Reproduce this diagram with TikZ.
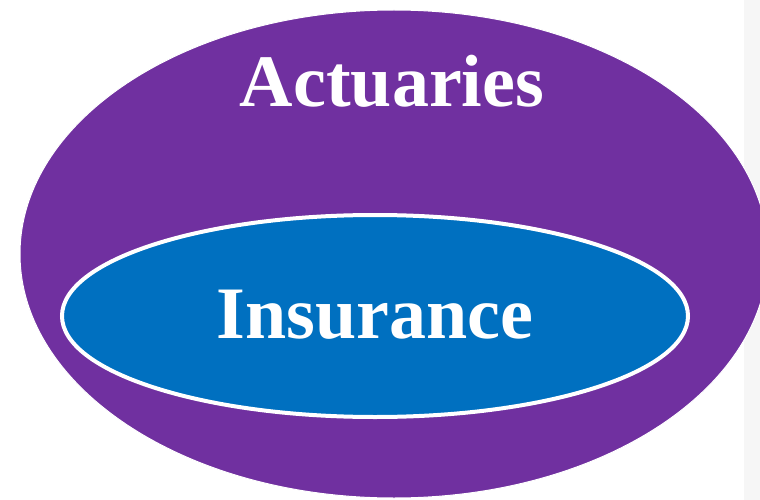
\documentclass[tikz,border=0pt]{standalone}
\usepackage{fontspec}
\setmainfont{Liberation Serif}
\definecolor{actpurple}{HTML}{7030A0}
\definecolor{insblue}{HTML}{0070C0}
\definecolor{edgegrey}{HTML}{F6F6F6}
\begin{document}
\begin{tikzpicture}[x=1pt,y=-1pt,
  outerset/.style={fill=actpurple,draw=white,line width=1pt},
  innerset/.style={fill=insblue,draw=white,line width=4pt},
  setlabel/.style={text=white,font=\bfseries\fontsize{74}{80}\selectfont,anchor=base,inner sep=0pt}]
\useasboundingbox (0,0) rectangle (760,500);
\fill[edgegrey] (744,0) rectangle (760,500);
\draw[outerset] (394,254) ellipse [x radius=374, y radius=244];
\draw[innerset] (375,316) ellipse [x radius=313, y radius=101];
\node[setlabel] (act) at (392,107) {Actuaries};
\node[setlabel] (ins) at (375,338) {Insurance};
\end{tikzpicture}
\end{document}
